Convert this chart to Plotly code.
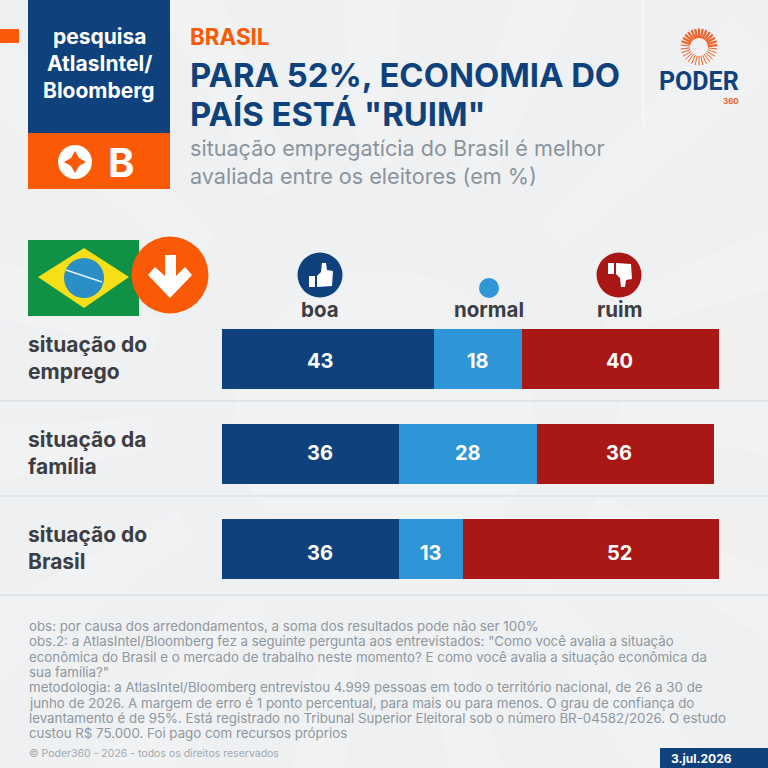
"""Poder360 - pesquisa AtlasIntel/Bloomberg, situacao do emprego, familia e Brasil."""
import math
import plotly.graph_objects as go

SIZE = 768
NAVY = "#0F427C"
BLUE = "#2E95D6"
RED = "#A91815"
ORANGE = "#FA5A05"
DARK = "#3B3E44"
GREY = "#8A949C"
NOTE = "#8F979E"
BG = "#EEF0F2"
FONT = "Inter"
PX_PER_POINT = 4.92

categories = ["situação do<br>emprego", "situação da<br>família", "situação do<br>Brasil"]
boa = [43, 36, 36]
normal = [18, 28, 13]
ruim = [40, 36, 52]

series_names = ["boa", "normal", "ruim"]

title_lines = ['PARA 52%, ECONOMIA DO', 'PAÍS ESTÁ "RUIM"']
subtitle_lines = ["situação empregatícia do Brasil é melhor", "avaliada entre os eleitores (em %)"]
note_lines = [
    "obs: por causa dos arredondamentos, a soma dos resultados pode não ser 100%",
    'obs.2: a AtlasIntel/Bloomberg fez a seguinte pergunta aos entrevistados: "Como você avalia a situação',
    "econômica do Brasil e o mercado de trabalho neste momento? E como você avalia a situação econômica da",
    'sua família?"',
    "metodologia: a AtlasIntel/Bloomberg entrevistou 4.999 pessoas em todo o território nacional, de 26 a 30 de",
    "junho de 2026. A margem de erro é 1 ponto percentual, para mais ou para menos. O grau de confiança do",
    "levantamento é de 95%. Está registrado no Tribunal Superior Eleitoral sob o número BR-04582/2026. O estudo",
    "custou R$ 75.000. Foi pago com recursos próprios",
]


# tudo fora das barras é posicionado em pixels da imagem
def px(x):
    return x / SIZE


def py(y):
    return 1 - y / SIZE


def rect(x0, y0, x1, y1, color, layer="above"):
    return dict(type="rect", xref="paper", yref="paper", x0=px(x0), x1=px(x1), y0=py(y0), y1=py(y1),
                fillcolor=color, line_width=0, layer=layer)


def circle(cx, cy, r, color, layer="above"):
    return dict(type="circle", xref="paper", yref="paper", x0=px(cx - r), x1=px(cx + r),
                y0=py(cy - r), y1=py(cy + r), fillcolor=color, line_width=0, layer=layer)


def poly(points, color, layer="above"):
    path = "M " + " L ".join(f"{px(x):.5f},{py(y):.5f}" for x, y in points) + " Z"
    return dict(type="path", xref="paper", yref="paper", path=path, fillcolor=color, line_width=0, layer=layer)


def line(x0, y0, x1, y1, color, width=1, layer="above"):
    return dict(type="line", xref="paper", yref="paper", x0=px(x0), x1=px(x1), y0=py(y0), y1=py(y1),
                line=dict(color=color, width=width), layer=layer)


def text(x, y, s, size, color, bold=False, anchor="left", font=FONT):
    return dict(xref="paper", yref="paper", x=px(x), y=py(y), text=f"<b>{s}</b>" if bold else s,
                showarrow=False, xanchor=anchor, yanchor="middle", align=anchor,
                borderpad=0, borderwidth=0, font=dict(family=font, size=size, color=color))


def thumb(cx, cy, flip):
    s = -1 if flip else 1
    cuff = [(-11, 1), (-5, 1), (-5, 12), (-11, 12)]
    hand = [(-3, 1), (1, -3), (2, -12), (6, -12), (7, -5), (13, -4), (12, 11), (-3, 12)]
    return [poly([(cx + a, cy + s * b) for a, b in pts], "white") for pts in (cuff, hand)]


shapes = []

# raios claros do fundo
for deg in range(0, 360, 24):
    a = math.radians(deg)
    b = math.radians(deg + 8)
    shapes.append(poly([(384 + 235 * math.cos(a), 400 + 235 * math.sin(a)),
                        (384 + 235 * math.cos(b), 400 + 235 * math.sin(b)),
                        (384 + 520 * math.cos(b), 400 + 520 * math.sin(b)),
                        (384 + 520 * math.cos(a), 400 + 520 * math.sin(a))], "#F1F2F4", "below"))
shapes.append(circle(384, 420, 150, "#F1F2F4", "below"))

# cabeçalho
shapes += [
    rect(0, 29, 19, 43, ORANGE),
    rect(28, 0, 170, 133, NAVY),
    rect(28, 133, 170, 189, ORANGE),
    circle(75, 162, 17, "white"),
    poly([(75, 151), (79, 158), (86, 162), (79, 166), (75, 173), (71, 166), (64, 162), (71, 158)], ORANGE),
    line(643, 0, 643, 125, "#F7F8F9", 1.5),
]

# logo
for deg in range(0, 360, 12):
    a = math.radians(deg)
    width = 2.2 if deg <= 95 or deg >= 285 else 1.0
    shapes.append(line(699 + 9 * math.sin(a), 47 - 9 * math.cos(a),
                       699 + 18.5 * math.sin(a), 47 - 18.5 * math.cos(a), "#F0622A", width))

# bandeira e seta
shapes += [
    rect(28, 240, 139, 316, "#0F9146"),
    poly([(84, 248), (129, 277), (84, 308), (38, 277)], "#F7DF17"),
    circle(84, 278, 20, "#2A8FC4"),
    line(66, 270, 102, 282, "#E8F1F0", 1.6),
    circle(170, 275, 38.5, ORANGE),
    poly([(165, 255), (176, 255), (176, 276), (185, 267), (192, 275), (170, 298), (148, 275), (155, 267), (165, 276)], "white"),
]

# ícones das colunas
shapes += [circle(320, 275, 22.5, NAVY), circle(489, 288, 10, BLUE), circle(619, 275, 22.5, RED)]
shapes += thumb(320, 275, False) + thumb(619, 275, True)

# separadores e data
shapes += [line(0, y, SIZE, y, "#D6D9DD", 1.2) for y in (401, 496, 595)]
shapes.append(rect(660, 748, SIZE, SIZE, NAVY))

annotations = [
    text(99, 36, "pesquisa", 21, "white", True, "center"),
    text(99, 63, "AtlasIntel/", 21, "white", True, "center"),
    text(99, 90, "Bloomberg", 21, "white", True, "center"),
    text(121, 162, "B", 40, "white", True, "center"),
    text(190, 36, "BRASIL", 22.4, ORANGE, True),
    text(190, 75, title_lines[0], 32.8, NAVY, True),
    text(190, 114, title_lines[1], 32.8, NAVY, True),
    text(190, 148, subtitle_lines[0], 21.6, GREY),
    text(190, 176, subtitle_lines[1], 21.6, GREY),
    text(699, 81, "PODER", 25, NAVY, True, "center", "Roboto"),
    text(731, 101, "360", 8, "#F0622A", True, "center"),
    text(320, 309, series_names[0], 20.5, DARK, True, "center"),
    text(489, 309, series_names[1], 20.5, DARK, True, "center"),
    text(619, 309, series_names[2], 20.5, DARK, True, "center"),
    text(29, 753, "© Poder360 - 2026 - todos os direitos reservados", 10.5, "#A2A8AE"),
    text(701, 758, "3.jul.2026", 12, "white", True, "center"),
]
for i, label in enumerate(categories):
    annotations.append(text(28, 358 + 95 * i, label, 21, DARK, True))
for i, note in enumerate(note_lines):
    annotations.append(text(29, 626 + 15.3 * i, note, 13.3, NOTE))
# boa e ruim ficam alinhados com a coluna; normal fica no meio da barra
for i, y_value in enumerate((361, 453, 553)):
    normal_x = 222 + (boa[i] + normal[i] / 2) * PX_PER_POINT
    annotations.append(text(320, y_value, str(boa[i]), 20, "white", True, "center"))
    annotations.append(text(normal_x, y_value, str(normal[i]), 20, "white", True, "center"))
    annotations.append(text(619, y_value, str(ruim[i]), 20, "white", True, "center"))

fig = go.Figure()
for name, values, color in zip(series_names, (boa, normal, ruim), (NAVY, BLUE, RED)):
    fig.add_trace(go.Bar(
        y=[0, 1, 2], x=values, name=name, orientation="h", width=0.64,
        marker_color=color, marker_line_width=0,
    ))

fig.update_layout(
    width=SIZE, height=SIZE, margin=dict(l=0, r=0, t=0, b=0), barmode="stack",
    paper_bgcolor=BG, plot_bgcolor="rgba(0,0,0,0)", showlegend=False, hovermode=False,
    shapes=shapes, annotations=annotations,
    xaxis=dict(domain=[222 / SIZE, 1], range=[0, (SIZE - 222) / PX_PER_POINT], visible=False),
    yaxis=dict(range=[(SIZE - 359) / 95, -359 / 95], visible=False),
)
fig.write_html("out.html", config={"displayModeBar": False},
               post_script="document.body.style.margin='0';")
